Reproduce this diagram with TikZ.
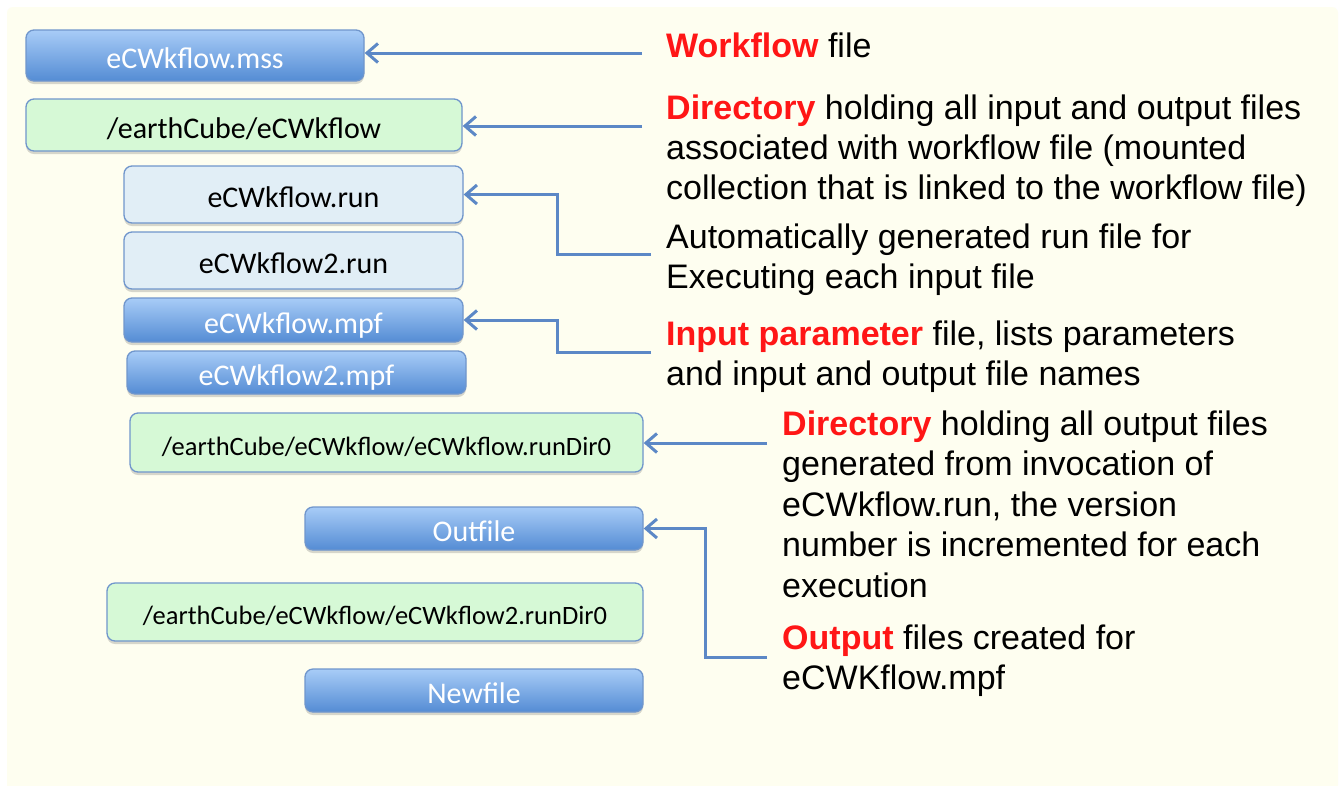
\documentclass[tikz,border=0pt]{standalone}
\usepackage{fontspec}
\newfontfamily\boxfont{Carlito}
\newfontfamily\notefont{Liberation Sans}
\usetikzlibrary{arrows.meta,shadows}

\definecolor{paper}{RGB}{254,254,240}
\definecolor{edgeblue}{RGB}{112,150,204}
\definecolor{filltop}{RGB}{168,204,247}
\definecolor{fillbot}{RGB}{84,140,212}
\definecolor{dirgreen}{RGB}{214,249,214}
\definecolor{runblue}{RGB}{225,238,246}
\definecolor{linkblue}{RGB}{92,136,198}
\definecolor{keyred}{RGB}{255,22,22}

\tikzset{
  % the text box is given a fixed height so the baseline sits 13pt below the centre
  filebox/.style={rounded corners=8pt, draw=edgeblue, line width=1.3pt,
    inner sep=0pt, align=center, text height=26pt, text depth=0pt,
    drop shadow={shadow xshift=0pt, shadow yshift=-3pt, opacity=0.22, fill=black!70}},
  solidfile/.style={filebox, top color=filltop, bottom color=fillbot,
    text=white, font=\boxfont\fontsize{30}{30}\selectfont},
  runfile/.style={filebox, fill=runblue, text=black,
    font=\boxfont\fontsize{30}{30}\selectfont},
  dirbox/.style={filebox, fill=dirgreen, text=black,
    font=\boxfont\fontsize{30}{30}\selectfont},
  longdir/.style={dirbox, text height=25pt,
    font=\boxfont\fontsize{26.5}{26.5}\selectfont},
  link/.style={draw=linkblue, line width=3pt, line join=miter,
    -{Straight Barb[length=11pt,width=19pt]}},
  % a multi-line note is placed by the baseline of its last line
  note/.style={anchor=base west, inner sep=0pt, align=left, text=black,
    font=\notefont\fontsize{34}{40}\selectfont},
  widenote/.style={note, font=\notefont\fontsize{34}{40.5}\selectfont},
}
\newcommand{\key}[1]{\textcolor{keyred}{\bfseries #1}}

\begin{document}
\begin{tikzpicture}[x=1pt,y=-1pt]
  \useasboundingbox (0,0) rectangle (1340,785);
  \clip (0,0) rectangle (1340,785);
  \fill[white] (0,0) rectangle (1340,785);
  \fill[paper, rounded corners=6pt] (7,7) rectangle (1338,800);

  % file and directory boxes
  \node[solidfile, minimum width=338pt, minimum height=51pt] (mss) at (195,55.5) {eCWkflow.mss};
  \node[dirbox, minimum width=436pt, minimum height=52pt] (wdir) at (244,125) {/earthCube/eCWkflow};
  \node[runfile, minimum width=339pt, minimum height=57pt] (run1) at (293.5,194.5) {eCWkflow.run};
  \node[runfile, minimum width=339pt, minimum height=57pt] (run2) at (293.5,260.5) {eCWkflow2.run};
  \node[solidfile, minimum width=339pt, minimum height=44pt] (mpf1) at (293.5,320) {eCWkflow.mpf};
  \node[solidfile, minimum width=339pt, minimum height=43pt] (mpf2) at (296.5,372.5) {eCWkflow2.mpf};
  \node[longdir, minimum width=513pt, minimum height=59pt] (rdir1) at (386.5,442.5) {/earthCube/eCWkflow/eCWkflow.runDir0};
  \node[solidfile, minimum width=338pt, minimum height=43pt] (out) at (474,528.5) {Outfile};
  \node[longdir, minimum width=536pt, minimum height=58pt] (rdir2) at (375,612) {/earthCube/eCWkflow/eCWkflow2.runDir0};
  \node[solidfile, minimum width=338pt, minimum height=43pt] (new) at (474,690.5) {Newfile};

  % explanatory notes
  \node[note] (nwf) at (666,57) {\key{Workflow} file};
  \node[note] (ndir) at (666,199) {\key{Directory} holding all input and output files\\
    associated with workflow file (mounted\\
    collection that is linked to the workflow file)};
  \node[note] (nrun) at (666,288) {Automatically generated run file for\\
    Executing each input file};
  \node[note] (nmpf) at (666,385) {\key{Input parameter} file, lists parameters\\
    and input and output file names};
  \node[widenote] (nrdir) at (782,597) {\key{Directory} holding all output files\\
    generated from invocation of\\
    eCWkflow.run, the version\\
    number is incremented for each\\
    execution};
  \node[note] (nout) at (782,689) {\key{Output} files created for\\
    eCWKflow.mpf};

  % connector start points
  \coordinate (cwf) at (642,53);
  \coordinate (cdir) at (642,126);
  \coordinate (crun) at (651,254);
  \coordinate (cmpf) at (651,352);
  \coordinate (crdir) at (767,443);
  \coordinate (cout) at (767,657);

  % connectors
  \draw[link] (cwf) -- (cwf -| mss.east);
  \draw[link] (cdir) -- (cdir -| wdir.east);
  \draw[link] (crun) -- (557,254) -- (557,194.5) -- (run1.east);
  \draw[link] (cmpf) -- (557,352) -- (557,320) -- (mpf1.east);
  \draw[link] (crdir) -- (crdir -| rdir1.east);
  \draw[link] (cout) -- (705,657) -- (705,528.5) -- (out.east);
\end{tikzpicture}
\end{document}
